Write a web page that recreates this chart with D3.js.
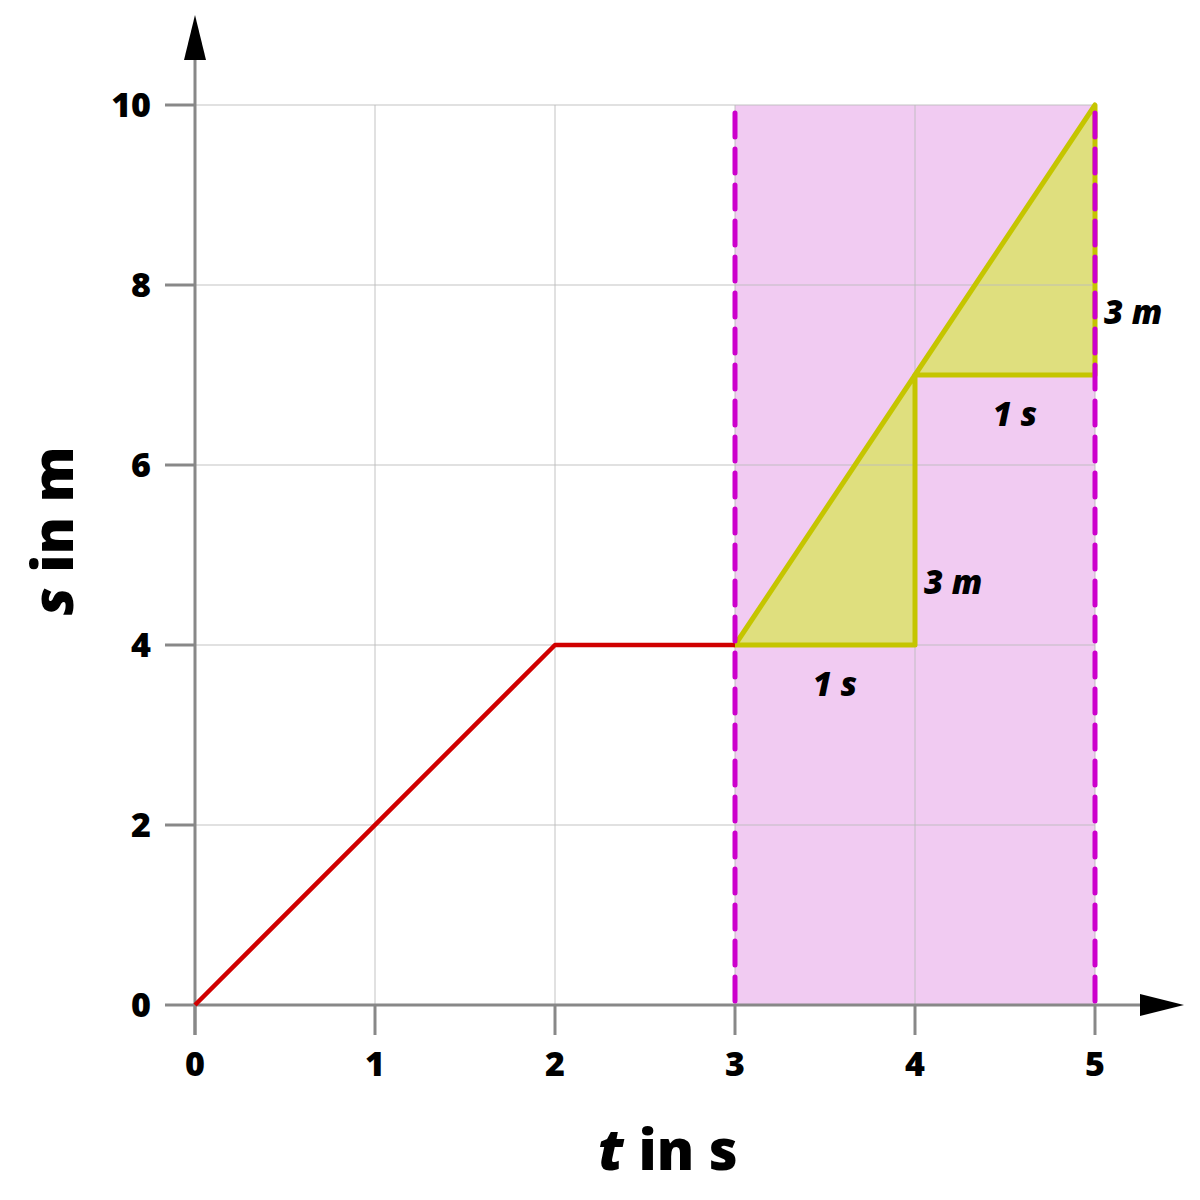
<!DOCTYPE html>
<html><head><meta charset="utf-8">
<script src="https://cdn.jsdelivr.net/npm/d3@7"></script>
<style>body{margin:0;background:#fff}svg{display:block;font-family:"Open Sans",sans-serif}</style>
</head><body><svg id="c" width="1200" height="1200"></svg>
<script>
const xTicks = [0,1,2,3,4,5];
const yTicks = [0,2,4,6,8,10];
const redT = [0,2,3];
const redS = [0,4,4];
const tri1 = [[3,4],[4,7],[4,4]];
const tri2 = [[4,7],[5,10],[5,7]];
const highlight = [3,5];
const labels = [
  {t:3.555, s:3.43, text:"1 s", anchor:"middle"},
  {t:4.05, s:4.57, text:"3 m", anchor:"start"},
  {t:4.555, s:6.43, text:"1 s", anchor:"middle"},
  {t:5.05, s:7.57, text:"3 m", anchor:"start"}
];

const svg = d3.select("#c");
const x = d3.scaleLinear().domain([0,5]).range([195,1095]);
const y = d3.scaleLinear().domain([0,10]).range([1005,105]);

// highlight band
svg.append("rect").attr("x",x(highlight[0])).attr("y",y(10))
  .attr("width",x(highlight[1])-x(highlight[0])).attr("height",y(0)-y(10))
  .attr("fill","#f1cbf2");

// triangles
[tri1,tri2].forEach(tr=>{
  svg.append("path").attr("d",d3.line().x(d=>x(d[0])).y(d=>y(d[1]))(tr)+"Z")
    .attr("fill","#dfdf7e").attr("stroke","none");
});

// grid
const g = svg.append("g");
g.selectAll(".gx").data(xTicks.slice(1)).join("line")
  .attr("x1",d=>x(d)).attr("x2",d=>x(d)).attr("y1",y(10)).attr("y2",y(0))
  .attr("stroke","#bbb").attr("stroke-opacity",0.6).attr("stroke-width",1.5);
g.selectAll(".gy").data(yTicks.slice(1)).join("line")
  .attr("y1",d=>y(d)).attr("y2",d=>y(d)).attr("x1",x(0)).attr("x2",x(5))
  .attr("stroke","#bbb").attr("stroke-opacity",0.6).attr("stroke-width",1.5);

// triangle outlines
[tri1,tri2].forEach(tr=>{
  svg.append("path").attr("d",d3.line().x(d=>x(d[0])).y(d=>y(d[1]))(tr)+"Z")
    .attr("fill","none").attr("stroke","#c5c500").attr("stroke-width",5).attr("stroke-linejoin","round");
});

// axes
const ax = svg.append("g").attr("stroke","#888").attr("stroke-width",3);
ax.append("line").attr("x1",x(0)).attr("x2",1150).attr("y1",y(0)).attr("y2",y(0));
ax.append("line").attr("x1",x(0)).attr("x2",x(0)).attr("y1",1035).attr("y2",50);
ax.selectAll(".tx").data(xTicks).join("line").attr("x1",d=>x(d)).attr("x2",d=>x(d)).attr("y1",y(0)).attr("y2",1035);
ax.selectAll(".ty").data(yTicks).join("line").attr("y1",d=>y(d)).attr("y2",d=>y(d)).attr("x1",165).attr("x2",x(0));
// arrows
svg.append("path").attr("d",`M${x(0)},15 L${x(0)-11},60 L${x(0)+11},60 Z`).attr("fill","#000");
svg.append("path").attr("d",`M1184,${y(0)} L1140,${y(0)-11} L1140,${y(0)+11} Z`).attr("fill","#000");

// red line
svg.append("path").datum(redT.map((t,i)=>[t,redS[i]]))
  .attr("d",d3.line().x(d=>x(d[0])).y(d=>y(d[1])))
  .attr("fill","none").attr("stroke","#d00000").attr("stroke-width",4.5).attr("stroke-linejoin","round");

// dashed lines
svg.selectAll(".dl").data(highlight).join("line")
  .attr("x1",d=>x(d)).attr("x2",d=>x(d)).attr("y1",y(10)+8).attr("y2",y(0))
  .attr("stroke","#cc00cc").attr("stroke-width",5).attr("stroke-dasharray","24,12").attr("stroke-linecap","round");

// tick labels
svg.selectAll(".xl").data(xTicks).join("text").attr("x",d=>x(d)).attr("y",1076)
  .attr("text-anchor","middle").attr("font-size",34).attr("font-weight",800).text(d=>d);
svg.selectAll(".yl").data(yTicks).join("text").attr("x",151).attr("y",d=>y(d)+12)
  .attr("text-anchor","end").attr("font-size",34).attr("font-weight",800).text(d=>d);

// annotations
svg.selectAll(".an").data(labels).join("text").attr("x",d=>x(d.t)).attr("y",d=>y(d.s))
  .attr("text-anchor",d=>d.anchor).attr("font-size",33).attr("font-weight",800).attr("font-style","italic").text(d=>d.text);

// axis titles
const xt = svg.append("text").attr("x",668).attr("y",1170).attr("text-anchor","middle").attr("font-size",56).attr("font-weight",800);
xt.append("tspan").attr("font-style","italic").text("t");
xt.append("tspan").text(" in s");
const yt = svg.append("text").attr("transform","translate(73,531) rotate(-90)").attr("text-anchor","middle").attr("font-size",56).attr("font-weight",800);
yt.append("tspan").attr("font-style","italic").text("s");
yt.append("tspan").text(" in m");
</script></body></html>
